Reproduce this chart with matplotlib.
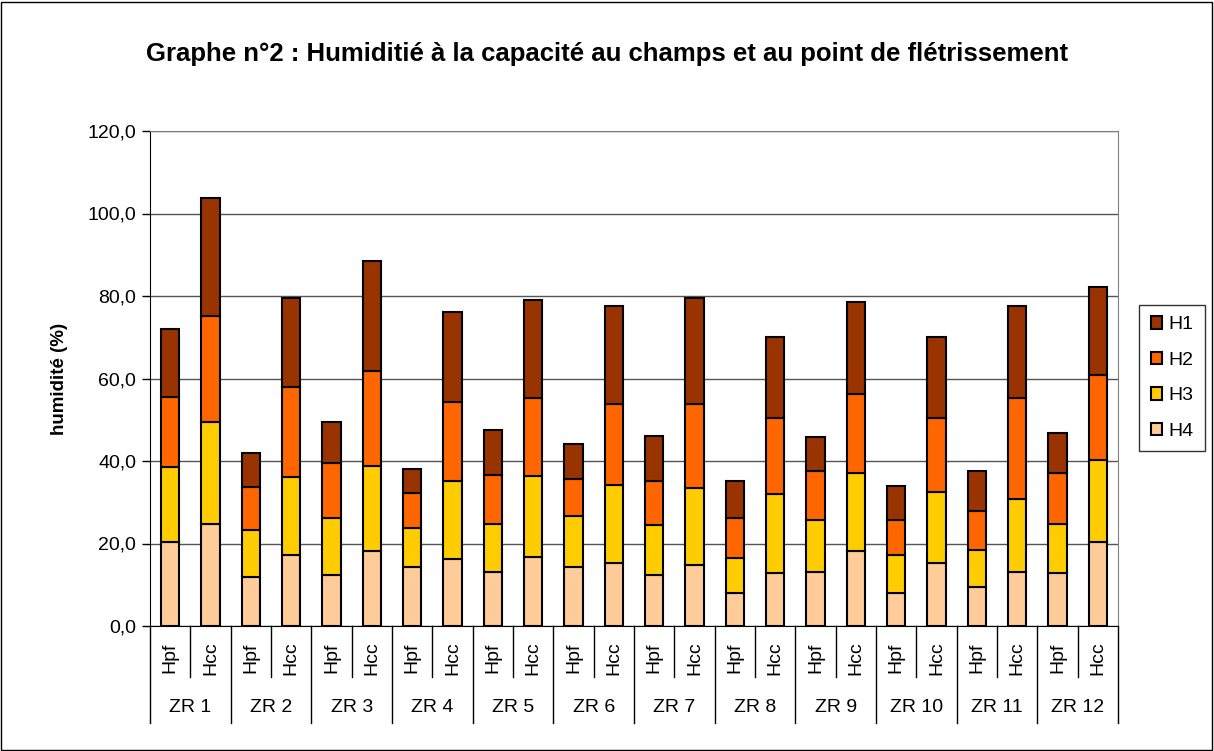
import numpy as np
import matplotlib.pyplot as plt
from matplotlib.patches import Rectangle
import matplotlib.transforms as mtransforms

plt.rcParams['font.family'] = ['Liberation Sans', 'DejaVu Sans']

zones = ['ZR 1', 'ZR 2', 'ZR 3', 'ZR 4', 'ZR 5', 'ZR 6',
         'ZR 7', 'ZR 8', 'ZR 9', 'ZR 10', 'ZR 11', 'ZR 12']
kinds = ['Hpf', 'Hcc']

# cumulative tops, order Hpf, Hcc for each zone
top_h4 = [20.4, 24.8, 11.9, 17.1, 12.3, 18.1, 14.2, 16.3, 13.2, 16.7, 14.2, 15.3,
          12.3, 14.7, 8.0, 12.8, 13.2, 18.1, 8.0, 15.3, 9.5, 13.2, 12.8, 20.4]
top_h3 = [38.6, 49.4, 23.3, 36.1, 26.2, 38.9, 23.7, 35.2, 24.8, 36.3, 26.7, 34.3,
          24.4, 33.4, 16.6, 31.9, 25.6, 37.1, 17.1, 32.4, 18.5, 30.9, 24.8, 40.3]
top_h2 = [55.6, 75.2, 33.7, 58.0, 39.4, 61.8, 32.3, 54.2, 36.6, 55.2, 35.7, 53.8,
          35.2, 53.8, 26.1, 50.5, 37.6, 56.2, 25.6, 50.5, 28.0, 55.2, 37.1, 60.9]
top_h1 = [71.9, 103.7, 41.9, 79.6, 49.5, 88.6, 38.0, 76.2, 47.6, 79.0, 44.2, 77.6,
          46.1, 79.6, 35.2, 70.0, 45.7, 78.6, 33.9, 70.0, 37.6, 77.6, 46.7, 82.3]

h4 = np.array(top_h4)
h3 = np.array(top_h3) - h4
h2 = np.array(top_h2) - np.array(top_h3)
h1 = np.array(top_h1) - np.array(top_h2)

colors = {'H1': '#993300', 'H2': '#FF6600', 'H3': '#FFCC00', 'H4': '#FFCC99'}

fig = plt.figure(figsize=(12.14, 7.51), dpi=100)
ax = fig.add_axes([150/1214, 125/751, 968/1214, 495/751])

x = np.arange(len(h4))
w = 0.45
bottom = np.zeros(len(x))
bars = {}
for name, vals in [('H4', h4), ('H3', h3), ('H2', h2), ('H1', h1)]:
    bars[name] = ax.bar(x, vals, w, bottom=bottom, color=colors[name],
                        edgecolor='black', linewidth=1.5, zorder=3)
    bottom = bottom + vals

ax.set_xlim(-0.5, len(x) - 0.5)
ax.set_ylim(0, 120)
yt = np.arange(0, 121, 20)
ax.set_yticks(yt)
ax.set_yticklabels([('%.1f' % v).replace('.', ',') for v in yt], fontsize=14)
ax.tick_params(axis='y', direction='out', length=6, width=1, pad=4)
ax.yaxis.grid(True, color='#555555', linewidth=1, zorder=0)
ax.set_xticks([])

for s in ['top', 'right']:
    ax.spines[s].set_color('#808080')
ax.spines['left'].set_color('black')
ax.spines['bottom'].set_color('black')

ax.set_ylabel('humidité (%)', fontsize=13.5, fontweight='bold', labelpad=14)

# two-level category labels
trans = mtransforms.blended_transform_factory(ax.transData, ax.transAxes)
for i in range(len(x)):
    ax.text(x[i], -0.065, kinds[i % 2], rotation=90, ha='center', va='center',
            fontsize=14, transform=trans)
for j, z in enumerate(zones):
    ax.text(2*j + 0.5, -0.165, z, ha='center', va='center', fontsize=14,
            transform=trans)
for k in range(len(x) + 1):
    xs = k - 0.5
    end = -0.196 if k % 2 == 0 else -0.103
    ax.plot([xs, xs], [0, end], color='black', linewidth=1, transform=trans,
            clip_on=False)

handles = [bars['H1'], bars['H2'], bars['H3'], bars['H4']]
leg = fig.legend(handles, ['H1', 'H2', 'H3', 'H4'], loc='center left',
                 bbox_to_anchor=(1139/1214, (751-378)/751), fontsize=14,
                 frameon=True, fancybox=False, edgecolor='black',
                 handlelength=0.6, handleheight=0.6, handletextpad=0.3,
                 labelspacing=0.95, borderpad=0.6, borderaxespad=0)
leg.get_frame().set_linewidth(1)

fig.text(0.5, 1 - 54/751, 'Graphe n°2 : Humiditié à la capacité au champs et au point de flétrissement',
         ha='center', va='center', fontsize=18.5, fontweight='bold')

fig.patches.append(Rectangle((1/1214, 1/751), 1211/1214, 748/751, fill=False,
                             edgecolor='black', linewidth=1, transform=fig.transFigure))

fig.savefig('out.png', dpi=100)
